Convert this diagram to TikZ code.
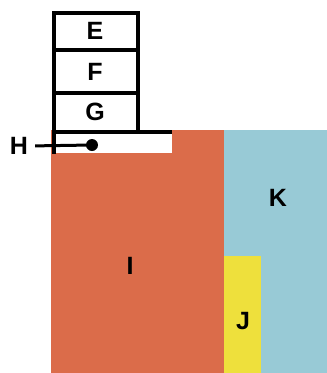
\documentclass[tikz,border=0pt]{standalone}
\usepackage{fontspec}
\setmainfont{Liberation Sans}
\usetikzlibrary{positioning}
\definecolor{brick}{RGB}{219,108,74}
\definecolor{skyblue}{RGB}{152,202,214}
\definecolor{lemon}{RGB}{238,224,60}
\newcommand{\dotsize}{12pt}
\newcommand{\rimwidth}{4pt}

\begin{document}
\begin{tikzpicture}[x=1pt,y=-1pt,
    lbl/.style={font=\fontsize{25}{25}\selectfont\bfseries}]
    \useasboundingbox (0,0) rectangle (327,373);
    % coloured blocks
    \fill[brick] (51,130) rectangle (224,373);
    \fill[skyblue] (224,130) rectangle (327,373);
    \fill[lemon] (224,256) rectangle (261,373);
    \fill[white] (54,132) rectangle (172,153);
    % stacked boxes
    \draw[line width=\rimwidth] (54,13) rectangle (138,132);
    \draw[line width=\rimwidth] (54,50) -- (138,50);
    \draw[line width=\rimwidth] (54,93) -- (138,93);
    \draw[line width=\rimwidth] (54,132) -- (172,132);
    \draw[line width=\rimwidth] (54,13) -- (54,154);

    \node (E) at (95,31) [lbl] {E};
    \node (F) at (95,72) [lbl] {F};
    \node (G) at (95,112) [lbl] {G};
    \node (H) at (19,146) [lbl, inner sep=0pt] {H};
    \node (dot) at (92,145) [fill, circle, inner sep=0pt, minimum size=\dotsize] {};
    \draw[line width=3pt, shorten <=7pt] (H.east) -- (dot.center);

    \node (I) at (130,266) [lbl] {I};
    \node (J) at (243,321) [lbl] {J};
    \node (K) at (278,198) [lbl] {K};
\end{tikzpicture}
\end{document}
